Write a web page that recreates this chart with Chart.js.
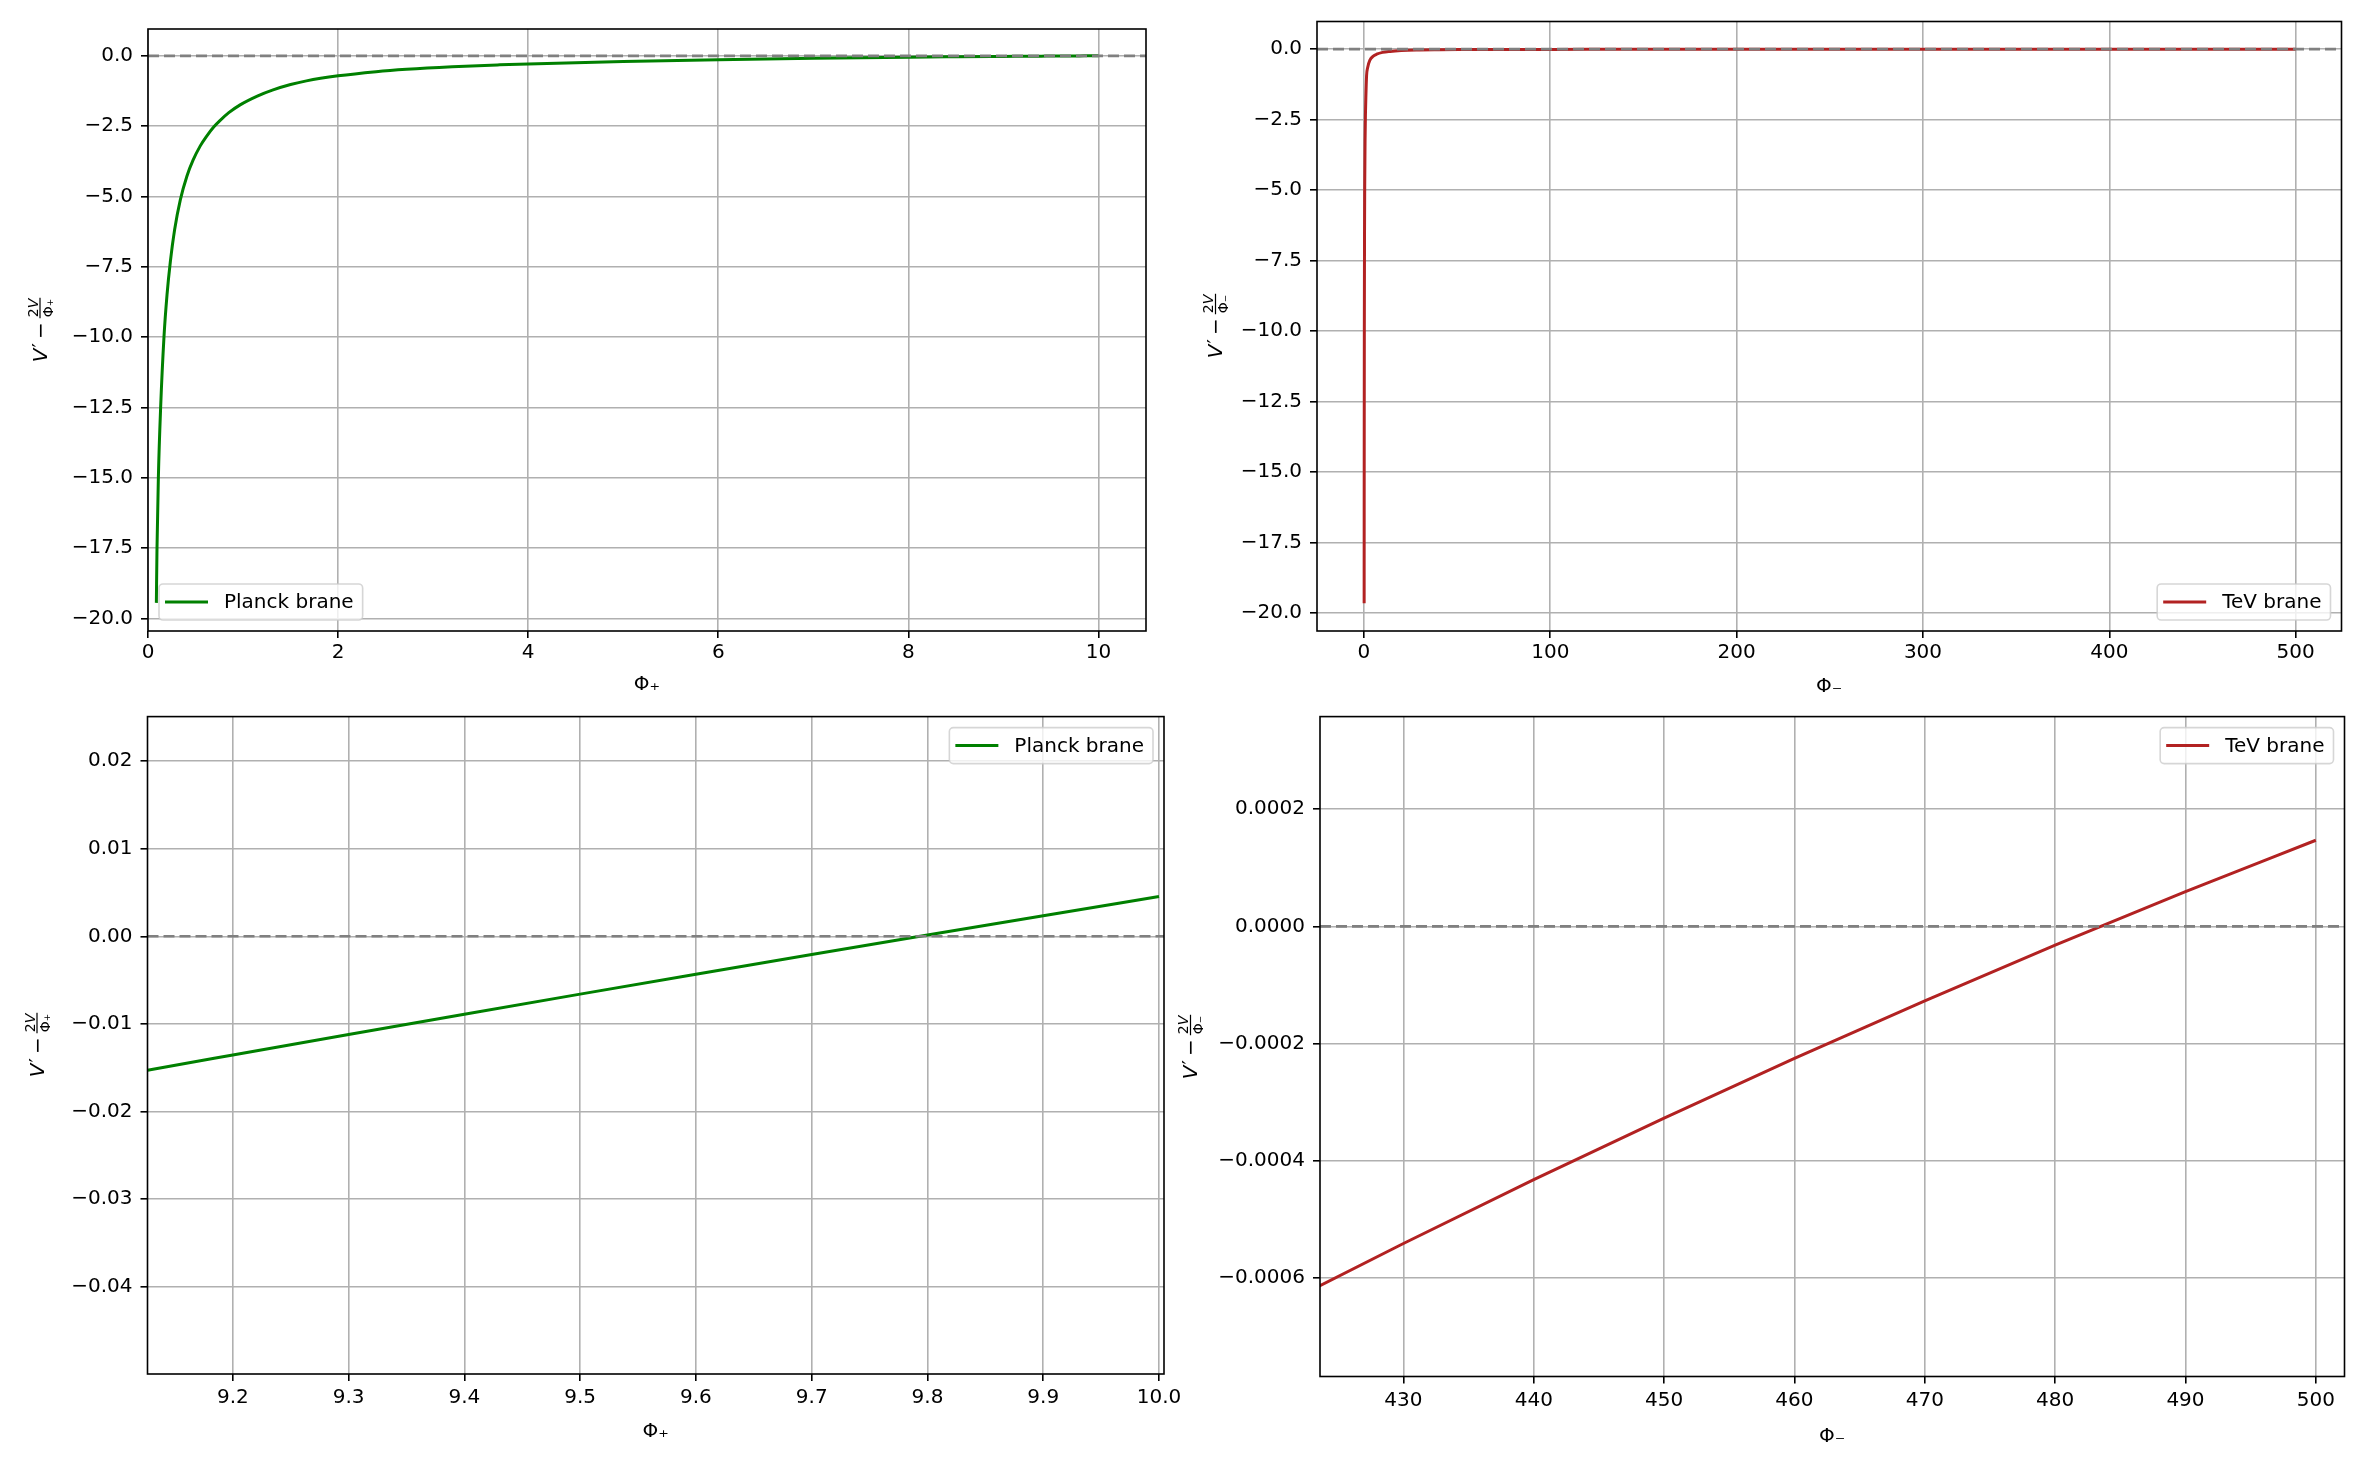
<!DOCTYPE html>
<html>
<head>
<meta charset="utf-8">
<script src="https://cdn.jsdelivr.net/npm/chart.js@4/dist/chart.umd.min.js"></script>
<style>
  html, body { margin: 0; padding: 0; background: #fff; }
  #wrap { position: relative; width: 2366px; height: 1467px; background: #fff; }
  canvas { position: absolute; left: 0; top: 0; }
</style>
</head>
<body>
<div id="wrap">
  <canvas id="c1" width="2366" height="1467"></canvas>
  <canvas id="c2" width="2366" height="1467"></canvas>
  <canvas id="c3" width="2366" height="1467"></canvas>
  <canvas id="c4" width="2366" height="1467"></canvas>
</div>
<script>
// ---------------- DATA ----------------
const planckPhi = [0.088, 0.0947, 0.109, 0.133, 0.168, 0.2, 0.235, 0.28, 0.34, 0.41, 0.474, 0.55, 0.614, 0.691, 0.754, 0.85, 0.965, 1.15, 1.316, 1.5, 1.667, 2.0, 2.4, 2.72, 3.2, 3.7, 4.0, 5.0, 6.0, 7.0, 8.0, 8.5, 9.0, 9.1263, 9.2, 9.3, 9.4, 9.5, 9.6, 9.7, 9.8, 9.9, 10.0];
const planckV   = [-19.45, -17.5, -15.0, -12.5, -10.0, -8.5, -7.32, -6.18, -5.12, -4.27, -3.71, -3.2, -2.87, -2.53, -2.31, -2.02, -1.75, -1.43, -1.21, -1.02, -0.888, -0.71, -0.5625, -0.478, -0.3875, -0.319, -0.285, -0.2, -0.135, -0.086, -0.0474, -0.0319, -0.01837, -0.0153, -0.01356, -0.011217, -0.008898, -0.006602, -0.004329, -0.002078, 0.00015, 0.002355, 0.004537];

const tevPhi = [0.1, 0.12, 0.15, 0.2, 0.3, 0.4, 0.6, 0.8, 1.0, 1.4, 2.0, 3.2, 5.0, 6.8, 10, 14, 20, 28, 40, 57, 80, 120, 200, 300, 400, 423.6, 430, 440, 450, 460, 470, 480, 490, 500];
const tevV   = [-19.65, -16.5, -13.2, -9.9, -6.6, -4.9, -3.2, -2.3, -1.75, -0.95, -0.65, -0.39, -0.25, -0.18, -0.115, -0.08, -0.05, -0.03, -0.02, -0.0145, -0.0105, -0.0078, -0.0046, -0.0023, -0.000884, -0.000613, -0.000541, -0.000432, -0.000327, -0.000225, -0.000127, -0.000032, 0.0000594, 0.000147];

// axis limits
const tlXRange = [0, 10.5],          tlYRange = [-20.45, 0.956];
const trXRange = [-25.2, 524.6],     trYRange = [-20.63, 0.98];
const blXRange = [9.1263, 10.0043],  blYRange = [-0.0500, 0.0251];
const brXRange = [423.6, 502.2],     brYRange = [-0.000768, 0.000358];

// tick values and labels
const tlXTicks = [0, 2, 4, 6, 8, 10];
const tlXLabels = ['0', '2', '4', '6', '8', '10'];
const topYTicks = [0, -2.5, -5, -7.5, -10, -12.5, -15, -17.5, -20];
const topYLabels = ['0.0', '\u22122.5', '\u22125.0', '\u22127.5', '\u221210.0', '\u221212.5', '\u221215.0', '\u221217.5', '\u221220.0'];
const trXTicks = [0, 100, 200, 300, 400, 500];
const trXLabels = ['0', '100', '200', '300', '400', '500'];
const blXTicks = [9.2, 9.3, 9.4, 9.5, 9.6, 9.7, 9.8, 9.9, 10.0];
const blXLabels = ['9.2', '9.3', '9.4', '9.5', '9.6', '9.7', '9.8', '9.9', '10.0'];
const blYTicks = [0.02, 0.01, 0, -0.01, -0.02, -0.03, -0.04];
const blYLabels = ['0.02', '0.01', '0.00', '\u22120.01', '\u22120.02', '\u22120.03', '\u22120.04'];
const brXTicks = [430, 440, 450, 460, 470, 480, 490, 500];
const brXLabels = ['430', '440', '450', '460', '470', '480', '490', '500'];
const brYTicks = [0.0002, 0, -0.0002, -0.0004, -0.0006];
const brYLabels = ['0.0002', '0.0000', '\u22120.0002', '\u22120.0004', '\u22120.0006'];

const planckLabel = 'Planck brane';
const tevLabel = 'TeV brane';

// ---------------- RENDERING ----------------
const FONT = '"DejaVu Sans"';
const toPts = (xs, ys) => xs.map((x, i) => ({ x: x, y: ys[i] }));

function drawYLabel(ctx, bx, cy, sub) {
  ctx.save();
  ctx.translate(bx, cy);
  ctx.rotate(-Math.PI / 2);
  ctx.fillStyle = '#000';
  ctx.textBaseline = 'alphabetic';
  ctx.textAlign = 'left';
  const big = '20px ' + FONT, bigI = 'italic 20px ' + FONT;
  const sm = '14px ' + FONT, smI = 'italic 14px ' + FONT;
  ctx.font = bigI; const wV = ctx.measureText('V').width;
  ctx.font = big; const wP = ctx.measureText('\u2032').width; const wM = ctx.measureText('\u2212').width;
  ctx.font = sm; const w2 = ctx.measureText('2').width;
  ctx.font = smI; const wV2 = ctx.measureText('V').width;
  ctx.font = sm; const wPhi = ctx.measureText('\u03A6' + sub).width;
  const numW = w2 + wV2;
  const fracW = Math.max(numW, wPhi) + 2;
  const gap = 4;
  const total = wV + 1 + wP + gap + wM + gap + fracW;
  let x = -total / 2;
  ctx.font = bigI; ctx.fillText('V', x, 0); x += wV + 1;
  ctx.font = big; ctx.fillText('\u2032', x, -1); x += wP + gap;
  ctx.fillText('\u2212', x, 0); x += wM + gap;
  const barY = -6.5;
  const nx = x + (fracW - numW) / 2;
  ctx.font = sm; ctx.fillText('2', nx, barY - 2.5);
  ctx.font = smI; ctx.fillText('V', nx + w2, barY - 2.5);
  ctx.font = sm; ctx.fillText('\u03A6' + sub, x + (fracW - wPhi) / 2, barY + 2.5 + 10.2);
  ctx.fillRect(x, barY - 0.6, fracW, 1.2);
  ctx.restore();
}

function drawXLabel(ctx, cx, by, sub) {
  ctx.save();
  ctx.fillStyle = '#000';
  ctx.font = '20px ' + FONT;
  ctx.textAlign = 'center';
  ctx.textBaseline = 'alphabetic';
  ctx.fillText('\u03A6' + sub, cx, by);
  ctx.restore();
}

function drawLegend(ctx, a, pos, label, color) {
  ctx.save();
  ctx.font = '20px ' + FONT;
  const tw = ctx.measureText(label).width;
  const w = 65 + tw + 9, h = 36, pad = 11;
  let x, y;
  if (pos === 'lower left') { x = a.left + pad; y = a.bottom - pad - h; }
  else if (pos === 'lower right') { x = a.right - pad - w; y = a.bottom - pad - h; }
  else { x = a.right - pad - w; y = a.top + pad; }
  const r = 4;
  ctx.beginPath();
  ctx.moveTo(x + r, y);
  ctx.lineTo(x + w - r, y); ctx.arcTo(x + w, y, x + w, y + r, r);
  ctx.lineTo(x + w, y + h - r); ctx.arcTo(x + w, y + h, x + w - r, y + h, r);
  ctx.lineTo(x + r, y + h); ctx.arcTo(x, y + h, x, y + h - r, r);
  ctx.lineTo(x, y + r); ctx.arcTo(x, y, x + r, y, r);
  ctx.closePath();
  ctx.fillStyle = 'rgba(255,255,255,0.8)';
  ctx.fill();
  ctx.strokeStyle = 'rgba(204,204,204,0.8)';
  ctx.lineWidth = 1.6;
  ctx.stroke();
  ctx.strokeStyle = color;
  ctx.lineWidth = 3;
  ctx.beginPath();
  ctx.moveTo(x + 6, y + h / 2);
  ctx.lineTo(x + 49, y + h / 2);
  ctx.stroke();
  ctx.fillStyle = '#000';
  ctx.textBaseline = 'middle';
  ctx.textAlign = 'left';
  ctx.fillText(label, x + 65, y + h / 2 + 1);
  ctx.restore();
}

const panelDecor = {
  id: 'panelDecor',
  afterDatasetsDraw(chart) {
    const a = chart.chartArea, ctx = chart.ctx;
    ctx.save();
    ctx.strokeStyle = '#000';
    ctx.lineWidth = 1.6;
    ctx.strokeRect(a.left, a.top, a.right - a.left, a.bottom - a.top);
    ctx.restore();
  },
  afterDraw(chart, args, o) {
    const a = chart.chartArea, ctx = chart.ctx;
    const ds = chart.data.datasets[1];
    drawLegend(ctx, a, o.legendPos, ds.label, ds.borderColor);
    drawYLabel(ctx, o.yLabelX, o.yLabelY, o.sub);
    drawXLabel(ctx, (a.left + a.right) / 2, o.xLabelBase, o.sub);
  }
};

function makePanel(id, p) {
  const W = 130, H = 60;
  const tickFont = { family: FONT, size: 20 };
  const gridOpts = { color: '#b0b0b0', lineWidth: 1.6, drawTicks: true, tickLength: 7, tickColor: '#000', tickWidth: 1.6 };
  new Chart(document.getElementById(id), {
    type: 'line',
    data: {
      datasets: [
        { label: 'y = 0', data: [{ x: p.xr[0], y: 0 }, { x: p.xr[1], y: 0 }], borderColor: '#808080', borderWidth: 2.6, borderDash: [11, 5], pointRadius: 0, order: 0, clip: 0 },
        { label: p.label, data: p.data, borderColor: p.color, borderWidth: 3, pointRadius: 0, cubicInterpolationMode: 'monotone', order: 1, clip: 0 }
      ]
    },
    options: {
      responsive: false, animation: false, events: [],
      layout: { padding: { left: p.box.l - W, top: p.box.t, right: 2366 - p.box.r, bottom: 1467 - p.box.b - H } },
      plugins: {
        legend: { display: false }, tooltip: { enabled: false },
        panelDecor: p.decor
      },
      scales: {
        x: {
          type: 'linear', min: p.xr[0], max: p.xr[1], bounds: 'data',
          afterFit: s => { s.height = H; },
          afterBuildTicks: s => { s.ticks = p.xt.map(v => ({ value: v })); },
          ticks: { callback: (v, i) => p.xl[i], autoSkip: false, maxRotation: 0, minRotation: 0, padding: p.xPad, color: '#000', font: tickFont },
          grid: gridOpts, border: { display: false }
        },
        y: {
          type: 'linear', min: p.yr[0], max: p.yr[1], bounds: 'data',
          afterFit: s => { s.width = W; },
          afterBuildTicks: s => { s.ticks = p.yt.map(v => ({ value: v })); },
          ticks: { callback: (v, i) => p.yl[i], autoSkip: false, padding: 8, color: '#000', font: tickFont },
          grid: gridOpts, border: { display: false }
        }
      }
    },
    plugins: [panelDecor]
  });
}

makePanel('c1', {
  box: { l: 148, t: 29, r: 1146, b: 631 }, xr: tlXRange, yr: tlYRange,
  xt: tlXTicks, xl: tlXLabels, yt: topYTicks, yl: topYLabels, xPad: 3,
  label: planckLabel, color: '#008000', data: toPts(planckPhi, planckV),
  decor: { legendPos: 'lower left', yLabelX: 46.5, yLabelY: 330, xLabelBase: 690, sub: '\u208A' }
});
makePanel('c2', {
  box: { l: 1317, t: 21.5, r: 2341.5, b: 631 }, xr: trXRange, yr: trYRange,
  xt: trXTicks, xl: trXLabels, yt: topYTicks, yl: topYLabels, xPad: 3,
  label: tevLabel, color: '#b22222', data: toPts(tevPhi, tevV),
  decor: { legendPos: 'lower right', yLabelX: 1222, yLabelY: 326, xLabelBase: 692, sub: '\u208B' }
});
makePanel('c3', {
  box: { l: 147.5, t: 716.6, r: 1164, b: 1374 }, xr: blXRange, yr: blYRange,
  xt: blXTicks, xl: blXLabels, yt: blYTicks, yl: blYLabels, xPad: 5,
  label: planckLabel, color: '#008000', data: toPts(planckPhi, planckV),
  decor: { legendPos: 'upper right', yLabelX: 43.5, yLabelY: 1045, xLabelBase: 1437, sub: '\u208A' }
});
makePanel('c4', {
  box: { l: 1320, t: 716.6, r: 2344.5, b: 1376.5 }, xr: brXRange, yr: brYRange,
  xt: brXTicks, xl: brXLabels, yt: brYTicks, yl: brYLabels, xPad: 5,
  label: tevLabel, color: '#b22222', data: toPts(tevPhi, tevV),
  decor: { legendPos: 'upper right', yLabelX: 1197, yLabelY: 1047, xLabelBase: 1442, sub: '\u208B' }
});
</script>
</body>
</html>
